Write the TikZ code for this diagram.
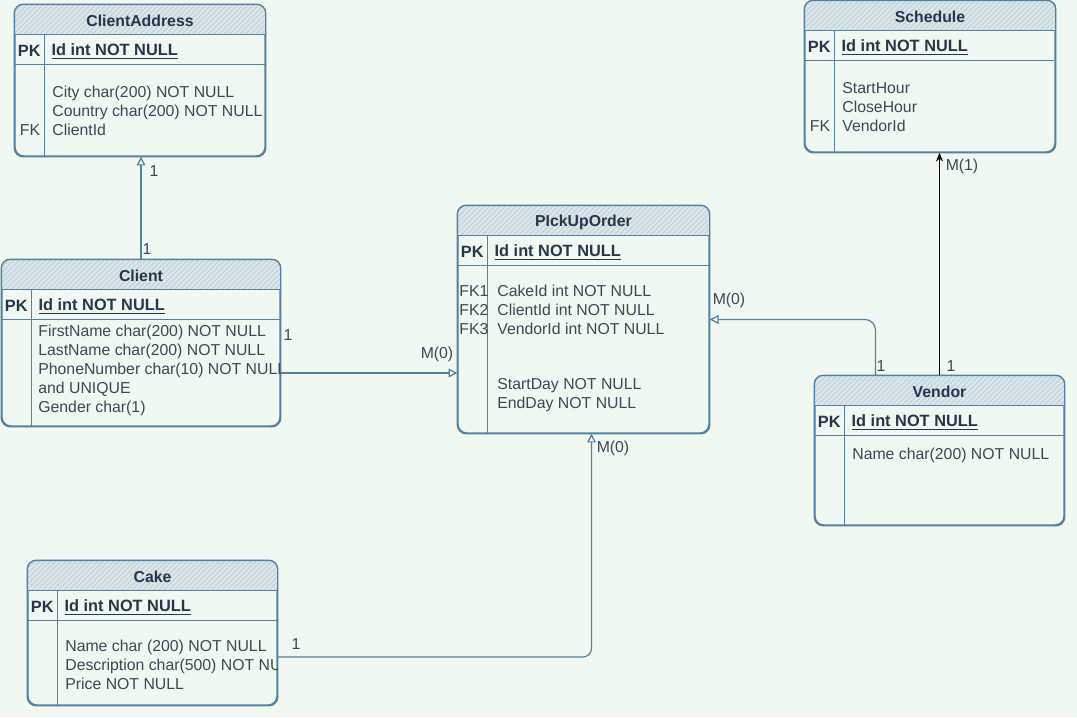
\documentclass[tikz,border=0pt]{standalone}
\usepackage{fontspec}
\setmainfont{Liberation Sans}
\usetikzlibrary{calc,patterns,fit,arrows.meta}
\definecolor{bgmint}{RGB}{240,248,241}
\definecolor{erline}{RGB}{84,130,164}
\definecolor{ertext}{RGB}{62,72,84}
\definecolor{ertitle}{RGB}{38,54,76}
\definecolor{erhead}{RGB}{218,230,234}
\definecolor{erhatch}{RGB}{186,204,212}

\begin{document}
\begin{tikzpicture}[x=0.02cm, y=-0.02cm, font=\fontsize{9}{10.8}\selectfont,
    tbl/.style={draw=erline, line width=0.8pt, rounded corners=5pt, inner sep=0pt},
    tline/.style={draw=erline, line width=0.8pt},
    ttl/.style={font=\fontsize{9}{10.8}\selectfont\bfseries, text=ertitle},
    pk/.style={font=\fontsize{9.3}{10.8}\selectfont\bfseries, text=ertitle, inner sep=0pt},
    fld/.style={anchor=west, inner sep=0pt, text=ertext, text height=6.6pt, text depth=1.9pt, yshift=-0.04cm},
    lbl/.style={inner sep=0pt, text=ertext, yshift=-0.03cm},
    rel/.style={draw=erline, line width=0.7pt, -{Triangle[open, length=5pt, width=5pt]}}]
    \fill[bgmint] (0,0) rectangle (1077,717);
    \useasboundingbox (0,0) rectangle (1077,717);

    % tables
    \node[tbl, fit={(15,5) (265,156)}] (addr) {};
    \node[tbl, fit={(2,260) (280,426)}] (client) {};
    \node[tbl, fit={(458,206) (709,433)}] (order) {};
    \node[tbl, fit={(805,1) (1055,152)}] (sched) {};
    \node[tbl, fit={(815,376) (1064,525)}] (vendor) {};
    \node[tbl, fit={(28,561) (277,705)}] (cake) {};

    \foreach \t/\ttl in {addr/ClientAddress, client/Client, order/PIckUpOrder,
                         sched/Schedule, vendor/Vendor, cake/Cake} {
      \begin{scope}
        \clip[rounded corners=5pt] (\t.north west) rectangle (\t.south east);
        \fill[erhead] (\t.north west) rectangle ($(\t.north east)+(0,30)$);
        \fill[pattern=north east lines, pattern color=erhatch]
          (\t.north west) rectangle ($(\t.north east)+(0,30)$);
      \end{scope}
      \draw[tbl] (\t.north west) rectangle (\t.south east);
      \draw[tline] ($(\t.north west)+(0,30)$) -- ($(\t.north east)+(0,30)$);
      \draw[tline] ($(\t.north west)+(0,60)$) -- ($(\t.north east)+(0,60)$);
      \draw[tline] ($(\t.north west)+(30,30)$) -- ($(\t.south west)+(30,0)$);
      \node[ttl] (\t-ttl) at ($(\t.north)+(0,17)$) {\ttl};
      \node[pk] (\t-pk) at ($(\t.north west)+(15,47)$) {PK};
      \node[pk, anchor=west] (\t-id) at ($(\t.north west)+(37,47)$) {\underline{Id int NOT NULL}};
    }

    % fields
    \foreach \s [count=\i] in {City char(200) NOT NULL, Country char(200) NOT NULL, ClientId}
      \node[fld] (addr-\i) at (52,72+19*\i) {\s};
    \node[lbl] (addr-fk) at (30,129) {FK};

    \begin{scope}
      \clip (client.north west) rectangle (client.south east);
      \foreach \s [count=\i] in {FirstName char(200) NOT NULL, LastName char(200) NOT NULL,
                                 PhoneNumber char(10) NOT NULL, and UNIQUE, Gender char(1)}
        \node[fld] (client-\i) at (38,311+19*\i) {\s};
    \end{scope}

    \foreach \s [count=\i] in {CakeId int NOT NULL, ClientId int NOT NULL, VendorId int NOT NULL}
      \node[fld] (order-\i) at (497,271+19*\i) {\s};
    \foreach \i in {1,2,3}
      \node[fld] (order-fk\i) at (459,271+19*\i) {FK\i};
    \node[fld] (order-4) at (497,383) {StartDay NOT NULL};
    \node[fld] (order-5) at (497,402) {EndDay NOT NULL};

    \foreach \s [count=\i] in {StartHour, CloseHour, VendorId}
      \node[fld] (sched-\i) at (842,68+19*\i) {\s};
    \node[lbl] (sched-fk) at (820,125) {FK};

    \node[fld] (vendor-1) at (852,453) {Name char(200) NOT NULL};

    \begin{scope}
      \clip (cake.north west) rectangle (cake.south east);
      \foreach \s [count=\i] in {Name char (200) NOT NULL, Description char(500) NOT NULL, Price NOT NULL}
        \node[fld] (cake-\i) at (65,626+19*\i) {\s};
    \end{scope}

    % relations
    \draw[rel] (client.north) -- (client.north |- addr.south);
    \node[lbl] (r1a) at (154,170) {1};
    \node[lbl] (r1b) at (147,248) {1};

    \coordinate (cl-out) at ($(client.east)+(0,30)$);
    \draw[rel] (cl-out) -- (cl-out -| order.west);
    \node[lbl] (r2a) at (288,334) {1};
    \node[lbl] (r2b) at (437,353) {M(0)};

    \coordinate (ck-out) at ($(cake.east)+(0,24)$);
    \draw[rel, rounded corners=5pt] (ck-out) -| ($(order.south)+(8,0)$);
    \node[lbl] (r3a) at (296,643) {1};
    \node[lbl] (r3b) at (613,447) {M(0)};

    \draw[rel, rounded corners=6pt] ($(vendor.north)+(-64,0)$) |- (order.east);
    \node[lbl] (r4a) at (881,365) {1};
    \node[lbl] (r4b) at (729,299) {M(0)};

    \draw[black, line width=0.8pt, -{Stealth[length=5pt, width=4pt]}] (vendor.north) -- (vendor.north |- sched.south);
    \node[lbl] (r5a) at (951,365) {1};
    \node[lbl] (r5b) at (962,165) {M(1)};
  \end{tikzpicture}
\end{document}
